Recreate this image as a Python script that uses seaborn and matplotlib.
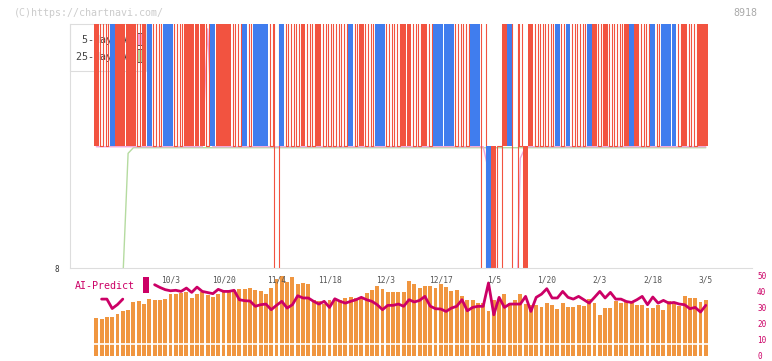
import numpy as np
import pandas as pd
import matplotlib
matplotlib.use("Agg")
import matplotlib.pyplot as plt
import seaborn as sns
from matplotlib.patches import Rectangle
from matplotlib.transforms import blended_transform_factory

nan = np.nan

# ---------------- data ----------------
# candle body type per session: R = filled red, B = filled blue, H = hollow red
candle_kind = list("RHHBRRRRHR" "BHHBBHHRRR" "RHBRRRHHBH" "BBBHHBHHHR" "HHRHHHHHBH"
                   "RHHBBHHHRR" "HHRHBBBBHH" "HBBHBRHRBH" "HRRHHHHBHB" "HHHBRHRHHH"
                   "RBRHHBHBBB" "HRHHRR")
# body position: T = upper band, L = lower band, F = both
candle_zone = list("TTTTTTTTTT" "TTTTTTTTTT" "TTTTTTTTTT" "TTTTFTTTTT" "TTTTTTTTTT"
                   "TTTTTTTTTT" "TTTTTTTTTT" "TTTFLLLTTF" "TLTTTTTTTT" "TTTTTTTTTT"
                   "TTTTTTTTTT" "TTTTTT")
zone_price = {"T": (8.5, 9.6), "L": (7.9, 8.5), "F": (7.9, 9.6)}

ma5 = [8.497, 8.497, 8.497, 8.497, 8.497, 8.497, 8.497, 8.497, 8.497, 8.497,
       8.497, 8.497, 8.497, 8.497, 8.497, 8.497, 8.497, 8.497, 8.497, 8.497,
       8.497, 8.98, 8.497, 8.497, 8.497, 8.497, 8.497, 8.497, 8.497, 8.497,
       8.497, 8.497, 8.497, 8.497, 8.497, 8.497, 8.497, 8.497, 8.497, 8.497,
       8.497, 8.497, 8.497, 8.497, 8.497, 8.497, 8.497, 8.497, 8.497, 8.497,
       8.497, 8.497, 8.497, 8.497, 8.497, 8.497, 8.497, 8.497, 8.497, 8.497,
       8.497, 8.497, 8.497, 8.497, 8.497, 8.497, 8.497, 8.497, 8.497, 8.497,
       8.497, 8.497, 8.497, 8.497, 8.40, 8.25, 7.5, 7.5, 7.5, 7.5,
       8.45, 8.497, 8.497, 8.497, 8.497, 8.497, 8.497, 8.497, 8.497, 8.497,
       8.497, 8.497, 8.497, 8.497, 8.497, 8.497, 8.497, 8.497, 8.497, 8.497,
       8.497, 8.497, 8.497, 8.497, 8.497, 8.497, 8.497, 8.497, 8.497, 8.497,
       8.497, 8.497, 8.497, 8.497, 8.497, 8.497]

ma25 = [nan, nan, nan, nan, nan, 7.95, 8.47, 8.493, 8.493, 8.493,
        8.493, 8.493, 8.493, 8.493, 8.493, 8.493, 8.493, 8.493, 8.493, 8.493,
        8.493, 8.493, 8.493, 8.493, 8.493, 8.493, 8.493, 8.493, 8.493, 8.493,
        8.493, 8.493, 8.493, 8.493, 8.493, 8.493, 8.493, 8.493, 8.493, 8.493,
        8.493, 8.493, 8.493, 8.493, 8.493, 8.493, 8.493, 8.493, 8.493, 8.493,
        8.493, 8.493, 8.493, 8.493, 8.493, 8.493, 8.493, 8.493, 8.493, 8.493,
        8.493, 8.493, 8.493, 8.493, 8.493, 8.493, 8.493, 8.493, 8.493, 8.493,
        8.493, 8.493, 8.493, 8.493, 8.493, 8.493, 8.493, 8.493, 8.493, 8.493,
        8.493, 8.493, 8.493, 8.493, 8.493, 8.493, 8.493, 8.493, 8.493, 8.493,
        8.493, 8.493, 8.493, 8.493, 8.493, 8.493, 8.493, 8.493, 8.493, 8.493,
        8.493, 8.493, 8.493, 8.493, 8.493, 8.493, 8.493, 8.493, 8.493, 8.493,
        8.493, 8.493, 8.493, 8.493, 8.493, 8.493]

volume = [23.6, 22.9, 24.2, 24.2, 26.1, 27.9, 28.6, 33.7, 34.4, 32.3,
          35.4, 35.0, 35.0, 35.4, 38.6, 38.8, 39.2, 39.8, 36.1, 38.8,
          39.6, 38.1, 36.8, 38.8, 39.6, 40.3, 41.1, 41.7, 41.7, 42.3,
          41.3, 40.6, 38.6, 42.3, 47.9, 49.6, 46.3, 49.0, 44.8, 45.4,
          44.8, 34.8, 34.0, 32.3, 35.0, 35.6, 35.0, 36.1, 36.5, 36.1,
          36.5, 39.2, 41.0, 43.4, 42.0, 39.6, 40.0, 40.0, 40.0, 46.9,
          44.8, 42.3, 43.4, 43.6, 42.3, 45.0, 42.7, 40.6, 41.3, 37.1,
          35.0, 35.0, 33.0, 33.0, 27.7, 35.0, 35.0, 38.6, 32.9, 35.0,
          38.6, 32.3, 31.9, 31.5, 30.4, 32.9, 31.5, 29.2, 32.9, 30.4,
          30.4, 31.5, 31.0, 35.4, 32.9, 25.4, 29.8, 29.8, 34.4, 32.9,
          34.0, 32.9, 31.9, 31.9, 29.8, 29.8, 31.7, 28.8, 34.4, 32.3,
          30.8, 37.1, 36.1, 36.1, 33.6, 34.8]

ai_predict = [nan, 35.4, 35.4, 29.5, 32.0, 35.4, nan, nan, nan, nan,
              nan, 44.4, 42.7, 41.3, 40.6, 40.9, 40.2, 42.3, 39.6, 42.9,
              40.2, 39.5, 38.8, 41.5, 40.2, 40.2, 40.9, 35.0, 34.4, 34.2,
              30.9, 31.9, 32.3, 28.8, 31.5, 34.0, 29.8, 31.9, 37.5, 36.1,
              36.1, 34.0, 32.3, 34.0, 30.2, 35.6, 34.0, 32.9, 34.0, 35.0,
              36.5, 35.0, 34.0, 31.9, 28.8, 31.5, 31.5, 32.3, 30.9, 35.0,
              33.6, 34.6, 37.1, 31.0, 29.4, 29.2, 27.7, 29.8, 30.9, 35.0,
              28.1, 30.2, 30.9, 30.9, 45.5, 25.6, 36.5, 30.2, 32.3, 32.3,
              32.3, 37.1, 27.7, 36.5, 38.5, 41.9, 36.1, 36.1, 40.2, 36.5,
              35.4, 37.1, 35.0, 32.9, 36.5, 40.2, 36.1, 39.6, 35.4, 35.4,
              33.9, 33.3, 35.0, 37.1, 31.9, 36.7, 32.9, 34.6, 32.9, 33.3,
              32.3, 31.9, 29.4, 30.2, 27.3, 31.5]

date_labels = ["10/3", "10/20", "11/4", "11/18", "12/3", "12/17", "1/5", "1/20", "2/3", "2/18", "3/5"]
date_label_idx = [14, 24, 34, 44, 54.5, 65, 75, 85, 95, 105, 115]
right_ticks = [0, 10, 20, 30, 40, 50]

# ---------------- styling ----------------
RED = "#F25340"
BLUE = "#407DEE"
ORANGE = "#F09640"
MAGENTA = "#CC0066"
PINK = "#F2A6DA"
GREEN = "#B5DBA0"
GRID = "#dddddd"

sns.set_style("white")
plt.rcParams['font.family'] = ['DejaVu Sans Mono', 'DejaVu Sans']

n = len(volume)
idx = np.arange(n)
df = pd.DataFrame({"idx": idx, "volume": volume, "ai": ai_predict,
                   "ma5": ma5, "ma25": ma25})
df["seg"] = df["ai"].isna().cumsum()

fig = plt.figure(figsize=(7.72, 3.61), dpi=100)
W, H = 772.0, 361.0
ax_top = fig.add_axes([70 / W, 93 / H, 682 / W, 244 / H])
ax_bot = fig.add_axes([70 / W, 2.7 / H, 682 / W, 84 / H])

xlim = ((70 - 96.3) / 5.3, (752 - 96.3) / 5.3)

# ---- top: candles ----
for i, (k, z) in enumerate(zip(candle_kind, candle_zone)):
    lo, hi = zone_price[z]
    if k == "H":
        w = 0.5 if z == "T" else 0.95
        ax_top.bar(i, hi - lo, bottom=lo, width=w, fill=False,
                   edgecolor=RED, linewidth=0.8, zorder=2)
    else:
        ax_top.bar(i, hi - lo, bottom=lo, width=0.93,
                   color=RED if k == "R" else BLUE, linewidth=0, zorder=2)

sns.lineplot(data=df, x="idx", y="ma25", ax=ax_top, color=GREEN, lw=1.0, zorder=1)
sns.lineplot(data=df, x="idx", y="ma5", ax=ax_top, color=PINK, lw=1.0, zorder=1)

ax_top.set_xlim(*xlim)
ax_top.set_ylim(8, 9)
ax_top.set_yticks([8])
ax_top.set_yticklabels(["8"])
ax_top.set_xticks(np.linspace(xlim[0], xlim[1], 12))
ax_top.set_xticklabels([])
ax_top.set_xlabel("")
ax_top.set_ylabel("")
ax_top.tick_params(axis="x", direction="inout", length=5.8, width=0.8, color=GRID)
ax_top.tick_params(axis="y", direction="out", length=3.6, width=0.8, color=GRID,
                   labelsize=5.5, labelcolor="#333333", pad=4.3)
for s in ["top", "right"]:
    ax_top.spines[s].set_visible(False)
for s in ["left", "bottom"]:
    ax_top.spines[s].set_color(GRID)
    ax_top.spines[s].set_linewidth(0.8)

# legend (drawn below the candles)
ax_top.add_patch(Rectangle((0, 0.807), 0.111, 0.193, transform=ax_top.transAxes,
                           facecolor="white", edgecolor=GRID, lw=0.8, zorder=0.5, clip_on=False))
ax_top.text(0.088, 0.934, "5-day MA", transform=ax_top.transAxes, ha="right", va="center",
            fontsize=7.2, color="#444444", zorder=0.6)
ax_top.text(0.088, 0.865, "25-day MA", transform=ax_top.transAxes, ha="right", va="center",
            fontsize=7.2, color="#444444", zorder=0.6)
ax_top.add_patch(Rectangle((0.0982, 0.914), 0.0073, 0.049, transform=ax_top.transAxes,
                           facecolor=PINK, edgecolor="#555555", lw=0.7, zorder=0.6))
ax_top.add_patch(Rectangle((0.0982, 0.844), 0.0073, 0.053, transform=ax_top.transAxes,
                           facecolor=GREEN, edgecolor="#555555", lw=0.7, zorder=0.6))

# ---- bottom: volume bars + AI-Predict ----
sns.barplot(data=df, x="idx", y="volume", ax=ax_bot, color=ORANGE, saturation=1,
            width=0.75, native_scale=True, linewidth=0, zorder=2)
ax_bot.axhline(7.5, color="white", lw=1.2, zorder=3)
sns.lineplot(data=df.dropna(subset=["ai"]), x="idx", y="ai", units="seg", estimator=None,
             ax=ax_bot, color=MAGENTA, lw=2.0, zorder=4)

ax_bot.set_xlim(*xlim)
ax_bot.set_ylim(-1.6, 50.9)
ax_bot.set_xticks([])
ax_bot.set_xlabel("")
ax_bot.set_ylabel("")
ax_bot.yaxis.tick_right()
ax_bot.set_yticks(right_ticks)
ax_bot.set_yticklabels([str(t) for t in right_ticks])
ax_bot.tick_params(axis="y", length=0, labelsize=5.5, labelcolor=MAGENTA, pad=3.6)
for s in ax_bot.spines.values():
    s.set_visible(False)
ax_bot.patch.set_alpha(0)

tr = blended_transform_factory(ax_bot.transData, ax_bot.transAxes)
for lab, xi in zip(date_labels, date_label_idx):
    ax_bot.text(xi, 0.93, lab, transform=tr, ha="center", va="center",
                fontsize=5.7, color="#555555", zorder=5)

# ---- figure texts ----
fig.text(14 / W, 1 - 12.5 / H, "(C)https://chartnavi.com/", ha="left", va="center",
         fontsize=7.2, color="#cccccc")
fig.text(757 / W, 1 - 12.5 / H, "8918", ha="right", va="center", fontsize=7.2, color="#aaaaaa")
fig.text(75 / W, 1 - 286 / H, "AI-Predict", ha="left", va="center", fontsize=7.2, color=MAGENTA)
fig.patches.append(Rectangle((142.7 / W, 1 - 292.7 / H), 6 / W, 16 / H,
                             transform=fig.transFigure, facecolor=MAGENTA, edgecolor="none"))

fig.savefig("out.png", dpi=100)
